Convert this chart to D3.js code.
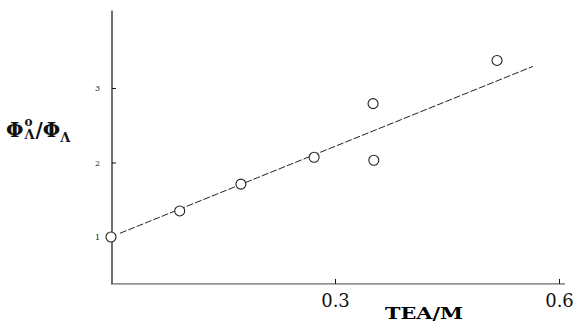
<!DOCTYPE html>
<html><head><meta charset="utf-8">
<script src="https://cdn.jsdelivr.net/npm/d3@7/dist/d3.min.js"></script>
<style>body{margin:0;background:#fff}svg{display:block}</style>
</head><body>
<script>
// Data
const teaConc = [0.0, 0.092, 0.174, 0.272, 0.351, 0.352, 0.517];
const phiRatio = [1.0, 1.35, 1.71, 2.07, 2.79, 2.03, 3.37];
const fitX = [0.012, 0.565];
const fitY = [1.05, 3.29];
const xTicks = [0.3, 0.6];
const yTicks = [1, 2, 3];
const xAxisDomain = [0, 0.608];
const yAxisDomain = [0.37, 4.04];

const W = 577, H = 326;
const svg = d3.select("body").append("svg").attr("width", W).attr("height", H);

const x = d3.scaleLinear().domain([0, 0.6]).range([111, 559]);
const y = d3.scaleLinear().domain([1, 3]).range([237, 88]);

const serif = "'DejaVu Serif', 'Liberation Serif', serif";

// axes
const yAxis = d3.axisLeft(y).tickValues(yTicks).tickFormat(d3.format("d"))
  .tickSize(-4).tickSizeOuter(0).tickPadding(12);
const gy = svg.append("g").attr("transform", `translate(${x(0) + 1},0)`).call(yAxis);
gy.select(".domain").attr("d", `M0,${y(yAxisDomain[1])}V${y(yAxisDomain[0])}`).attr("stroke", "#111").attr("stroke-width", 1.2);
gy.selectAll(".tick line").attr("stroke", "#111");
gy.selectAll(".tick text").attr("font-family", serif).attr("font-size", 8).attr("fill", "#222");

const xAxis = d3.axisBottom(x).tickValues(xTicks).tickFormat(d3.format(".1f"))
  .tickSize(-5).tickSizeOuter(0).tickPadding(10);
const gx = svg.append("g").attr("transform", `translate(0,${y(yAxisDomain[0])})`).call(xAxis);
gx.select(".domain").attr("d", `M${x(xAxisDomain[0])},0H${x(xAxisDomain[1])}`).attr("stroke", "#444").attr("stroke-width", 1);
gx.selectAll(".tick line").attr("stroke", "#111");
gx.selectAll(".tick text").attr("font-family", serif).attr("font-size", 18).attr("fill", "#111");

// fit line
svg.append("path")
  .attr("d", d3.line().x(d => x(d[0])).y(d => y(d[1]))(fitX.map((v, i) => [v, fitY[i]])))
  .attr("stroke", "#222").attr("stroke-width", 1).attr("fill", "none")
  .attr("stroke-dasharray", "7,2");

// points
svg.append("g").selectAll("circle").data(teaConc.map((v, i) => [v, phiRatio[i]]))
  .join("circle")
  .attr("cx", d => x(d[0])).attr("cy", d => y(d[1])).attr("r", 5)
  .attr("fill", "#fff").attr("stroke", "#222").attr("stroke-width", 1.1);

// axis titles
svg.append("text").attr("x", 424).attr("y", 319).attr("text-anchor", "middle")
  .attr("font-family", serif).attr("font-weight", "bold").attr("font-size", 16)
  .attr("textLength", 78).attr("lengthAdjust", "spacingAndGlyphs")
  .text("TEA/M");

const yl = svg.append("text").attr("x", 6).attr("y", 137)
  .attr("font-family", serif).attr("font-weight", "bold").attr("font-size", 20).attr("fill", "#111");
yl.append("tspan").text("Φ");
yl.append("tspan").attr("font-size", 12).attr("dx", 1).attr("dy", -11).text("o");
yl.append("tspan").attr("font-size", 13).attr("dx", -8).attr("dy", 13).text("Λ");
yl.append("tspan").attr("dx", 1).attr("dy", -2).text("/Φ");
yl.append("tspan").attr("font-size", 13).attr("dy", 5).text("Λ");
</script>
</body></html>
